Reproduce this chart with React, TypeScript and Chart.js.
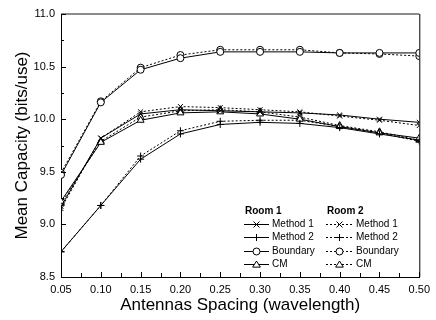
import React, { useEffect, useRef } from "react";
import { Chart, registerables } from "chart.js";

Chart.register(...registerables);

const spacing = [0.05, 0.1, 0.15, 0.2, 0.25, 0.3, 0.35, 0.4, 0.45, 0.5];

const room1Method1 = [9.17, 9.82, 10.05, 10.09, 10.08, 10.07, 10.06, 10.04, 10.0, 9.97];
const room1Method2 = [8.74, 9.18, 9.62, 9.86, 9.95, 9.97, 9.96, 9.92, 9.86, 9.8];
const room1Boundary = [9.47, 10.16, 10.47, 10.58, 10.64, 10.64, 10.64, 10.63, 10.63, 10.63];
const room1CM = [9.22, 9.78, 9.99, 10.06, 10.07, 10.05, 10.0, 9.93, 9.87, 9.82];

const room2Method1 = [9.15, 9.82, 10.07, 10.12, 10.11, 10.09, 10.07, 10.03, 9.99, 9.94];
const room2Method2 = [8.74, 9.18, 9.65, 9.89, 9.98, 9.99, 9.99, 9.93, 9.87, 9.79];
const room2Boundary = [9.49, 10.17, 10.49, 10.61, 10.66, 10.66, 10.66, 10.63, 10.62, 10.6];
const room2CM = [9.2, 9.79, 10.02, 10.08, 10.09, 10.07, 10.02, 9.94, 9.88, 9.8];

const methodNames = ["Method 1", "Method 2", "Boundary", "CM"];
const roomNames = ["Room 1", "Room 2"];
const markerStyles = ["crossRot", "cross", "circle", "triangle"];

const FONT = "'Liberation Sans', Arial, sans-serif";

function pts(vals: number[]) {
  return vals.map((v, i) => ({ x: spacing[i], y: v }));
}

function drawMarker(ctx: CanvasRenderingContext2D, style: string, x: number, y: number, r: number) {
  ctx.save();
  ctx.strokeStyle = "#000";
  ctx.fillStyle = "#fff";
  ctx.lineWidth = 1;
  ctx.setLineDash([]);
  ctx.beginPath();
  if (style === "circle") {
    ctx.arc(x, y, r, 0, Math.PI * 2);
    ctx.fill();
    ctx.stroke();
  } else if (style === "triangle") {
    const h = r * 1.5;
    ctx.moveTo(x, y - h * 0.66);
    ctx.lineTo(x + r * 1.1, y + h * 0.5);
    ctx.lineTo(x - r * 1.1, y + h * 0.5);
    ctx.closePath();
    ctx.fill();
    ctx.stroke();
  } else if (style === "cross") {
    ctx.moveTo(x - r, y);
    ctx.lineTo(x + r, y);
    ctx.moveTo(x, y - r);
    ctx.lineTo(x, y + r);
    ctx.stroke();
  } else {
    const d = r * 0.85;
    ctx.moveTo(x - d, y - d);
    ctx.lineTo(x + d, y + d);
    ctx.moveTo(x + d, y - d);
    ctx.lineTo(x - d, y + d);
    ctx.stroke();
  }
  ctx.restore();
}

const framePlugin = {
  id: "framePlugin",
  afterDatasetsDraw(chart: any) {
    const { ctx, chartArea } = chart;
    const xs = chart.scales.x;
    const ys = chart.scales.y;
    ctx.save();
    ctx.setLineDash([]);
    // top and right border
    ctx.strokeStyle = "#666";
    ctx.lineWidth = 1.5;
    ctx.beginPath();
    ctx.moveTo(chartArea.left, chartArea.top);
    ctx.lineTo(chartArea.right, chartArea.top);
    ctx.stroke();
    ctx.strokeStyle = "#000";
    ctx.lineWidth = 1;
    ctx.beginPath();
    ctx.moveTo(chartArea.right + 0.5, chartArea.top);
    ctx.lineTo(chartArea.right + 0.5, chartArea.bottom);
    ctx.stroke();
    // inward ticks
    ctx.beginPath();
    for (let i = 0; i <= 18; i++) {
      const v = 0.05 + i * 0.025;
      const px = Math.round(xs.getPixelForValue(v)) + 0.5;
      const len = i % 2 === 0 ? 5 : 4;
      ctx.moveTo(px, chartArea.bottom);
      ctx.lineTo(px, chartArea.bottom - len);
    }
    for (let i = 0; i <= 10; i++) {
      const v = 8.5 + i * 0.25;
      const py = Math.round(ys.getPixelForValue(v)) + 0.5;
      const len = i % 2 === 0 ? 5 : 3;
      ctx.moveTo(chartArea.left, py);
      ctx.lineTo(chartArea.left + len, py);
    }
    ctx.stroke();
    ctx.restore();
  },
  afterDraw(chart: any) {
    const { ctx } = chart;
    ctx.save();
    ctx.fillStyle = "#000";
    ctx.textBaseline = "middle";
    const cols = [
      { head: 245, x0: 244, x1: 269, mx: 256.5, tx: 272, dash: [] as number[] },
      { head: 327, x0: 326, x1: 353, mx: 339.5, tx: 356, dash: [2, 2] },
    ];
    const rows = [224, 237, 251, 264];
    cols.forEach((c, ci) => {
      ctx.font = `bold 10px ${FONT}`;
      ctx.fillText(roomNames[ci], c.head, 211);
      ctx.font = `10px ${FONT}`;
      rows.forEach((ry, ri) => {
        ctx.save();
        ctx.strokeStyle = "#000";
        ctx.lineWidth = 1;
        ctx.setLineDash(c.dash);
        ctx.beginPath();
        ctx.moveTo(c.x0, ry + 0.5);
        ctx.lineTo(c.x1, ry + 0.5);
        ctx.stroke();
        ctx.restore();
        drawMarker(ctx, markerStyles[ri], c.mx, ry + 0.5, 3.5);
        ctx.fillStyle = "#000";
        ctx.fillText(methodNames[ri], c.tx, ry + 0.5);
      });
    });
    ctx.restore();
  },
};

function makeDataset(label: string, vals: number[], style: string, dashed: boolean) {
  const filled = style === "circle" || style === "triangle";
  return {
    label,
    data: pts(vals),
    borderColor: "#000",
    borderWidth: 1,
    borderDash: dashed ? [2, 2] : [],
    pointStyle: style,
    pointRadius: style === "triangle" ? 4 : 3.5,
    pointBorderWidth: 1,
    pointBorderColor: "#000",
    pointBackgroundColor: filled ? "#fff" : "#000",
    tension: 0,
    fill: false,
  };
}

export default function App() {
  const ref = useRef<HTMLCanvasElement | null>(null);
  useEffect(() => {
    if (!ref.current) return;
    const r1 = [room1Method1, room1Method2, room1Boundary, room1CM];
    const r2 = [room2Method1, room2Method2, room2Boundary, room2CM];
    const datasets: any[] = [];
    r1.forEach((v, i) => datasets.push(makeDataset(`${roomNames[0]} ${methodNames[i]}`, v, markerStyles[i], false)));
    r2.forEach((v, i) => datasets.push(makeDataset(`${roomNames[1]} ${methodNames[i]}`, v, markerStyles[i], true)));
    const chart = new Chart(ref.current, {
      type: "line",
      data: { datasets },
      plugins: [framePlugin],
      options: {
        responsive: false,
        animation: false,
        layout: { padding: { top: 14, right: 13, left: 0, bottom: 0 } },
        plugins: { legend: { display: false }, tooltip: { enabled: false } },
        scales: {
          x: {
            type: "linear",
            min: 0.05,
            max: 0.5,
            afterFit: (s: any) => {
              s.height = 43;
            },
            grid: { display: false, drawTicks: false },
            border: { display: true, color: "#000", width: 1 },
            ticks: {
              stepSize: 0.05,
              padding: 6,
              color: "#000",
              font: { family: FONT, size: 11 },
              maxRotation: 0,
              autoSkip: false,
              callback: (v: any) => Number(v).toFixed(2),
            },
            title: {
              display: true,
              text: "Antennas Spacing (wavelength)",
              color: "#000",
              font: { family: FONT, size: 17 },
              padding: { top: 0, bottom: 4 },
            },
          },
          y: {
            type: "linear",
            min: 8.5,
            max: 11,
            afterFit: (s: any) => {
              s.width = 61;
            },
            grid: { display: false, drawTicks: false },
            border: { display: true, color: "#000", width: 1 },
            ticks: {
              stepSize: 0.5,
              padding: 6,
              color: "#000",
              font: { family: FONT, size: 11 },
              callback: (v: any) => Number(v).toFixed(1),
            },
            title: {
              display: true,
              text: "Mean Capacity (bits/use)",
              color: "#000",
              font: { family: FONT, size: 17 },
              padding: { top: 12, bottom: 0 },
            },
          },
        },
      } as any,
    });
    return () => chart.destroy();
  }, []);
  return (
    <div style={{ position: "fixed", left: 0, top: 0, width: 436, height: 320, background: "#fff" }}>
      <canvas ref={ref} width={436} height={320} />
    </div>
  );
}
